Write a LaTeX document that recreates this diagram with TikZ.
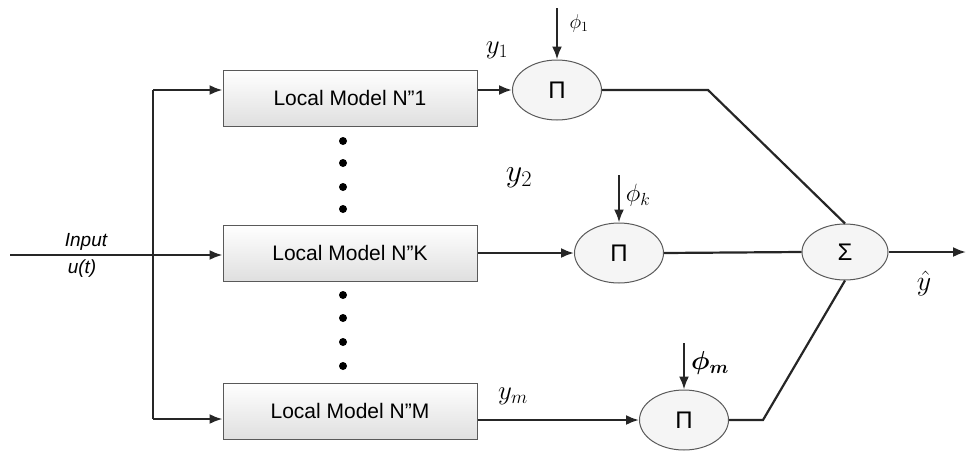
\RequirePackage{fix-cm}
\documentclass[tikz,border=0pt]{standalone}
\usepackage{amsmath}
\usepackage{bm}
\usepackage{fontspec}
\setmainfont{Liberation Sans}
\usetikzlibrary{arrows.meta,shapes.geometric}
\tikzset{
  box/.style={draw=gray!70!black, line width=1pt, top color=white, bottom color=gray!25,
    minimum width=254pt, minimum height=56pt, inner sep=0pt, font=\fontsize{21}{25}\selectfont},
  op/.style={ellipse, draw=gray!70!black, line width=1pt, fill=gray!8,
    minimum width=89pt, minimum height=60pt, inner sep=0pt, font=\fontsize{24}{28}\selectfont},
  conn/.style={line width=2.2pt, draw=black!85},
  arr/.style={conn, -{Latex[length=13pt,width=10pt]}},
  lab/.style={inner sep=0pt},
  dotmark/.style={fill=black},
}
\begin{document}
\begin{tikzpicture}[x=1pt,y=-1pt]
\useasboundingbox (0,0) rectangle (966,450);
% boxes
\node[box] (b1) at (350,98) {Local Model N\symbol{34}1};
\node[box] (bk) at (350,253) {Local Model N\symbol{34}K};
\node[box] (bm) at (350,411) {Local Model N\symbol{34}M};
% operators
\node[op] (p1) at (557,90) {Π};
\node[op] (pk) at (619,253) {Π};
\node[op] (pm) at (684,420) {Π};
\node[op, minimum width=86pt, minimum height=56pt] (s) at (845,252) {Σ};
% input
\coordinate (in) at (10,255);
\coordinate (t1) at (153,90);
\coordinate (tm) at (153,419);
\draw[conn] (t1) -- (tm);
\draw[arr] (in) -- (bk.west |- in);
\draw[arr] (t1) -- (b1.west |- t1);
\draw[arr] (tm) -- (bm.west |- tm);
\node[lab, font=\fontsize{19}{22}\selectfont\itshape] (lin) at (86,242) {Input};
\node[lab, font=\fontsize{19}{22}\selectfont\itshape] (lut) at (82,269) {u(t)};
% model outputs
\draw[arr] (b1.east |- p1) -- (p1.west);
\draw[arr] (bk.east |- pk) -- (pk.west);
\draw[arr] (bm.east |- pm) -- (pm.west);
% weights
\coordinate (f1) at (557,8);
\coordinate (fk) at (619,175);
\coordinate (fm) at (684,343);
\draw[arr] (f1) -- (p1.north);
\draw[arr] (fk) -- (pk.north);
\draw[arr] (fm) -- (pm.north);
% to sum
\coordinate (k1) at (708,90);
\coordinate (km) at (763,420);
\draw[conn] (p1.east) -- (k1) -- (s.north);
\draw[conn] (pk.east) -- (s.west);
\draw[conn] (pm.east) -- (km) -- (s.south);
\coordinate (out) at (966,252);
\draw[arr] (s.east) -- (out);
% labels
\node[lab, font=\fontsize{27}{30}\selectfont] (ly1) at (497,50) {$y_1$};
\node[lab, font=\fontsize{32}{36}\selectfont] (ly2) at (519,178) {$y_2$};
\node[lab, font=\fontsize{27}{30}\selectfont] (lym) at (513,396) {$y_m$};
\node[lab, font=\fontsize{20}{24}\selectfont] (lf1) at (579,23) {$\phi_1$};
\node[lab, font=\fontsize{25}{28}\selectfont] (lfk) at (638,195) {$\phi_k$};
\node[lab, font=\fontsize{26}{30}\selectfont] (lfm) at (710,363) {$\bm{\phi_m}$};
\node[lab, font=\fontsize{28}{32}\selectfont] (lyh) at (924,283) {$\hat{y}$};
% dots
\foreach \yy in {141,163,187,209,295,318,342,366}
  \fill[dotmark] (343,\yy) circle (4);
\end{tikzpicture}
\end{document}
